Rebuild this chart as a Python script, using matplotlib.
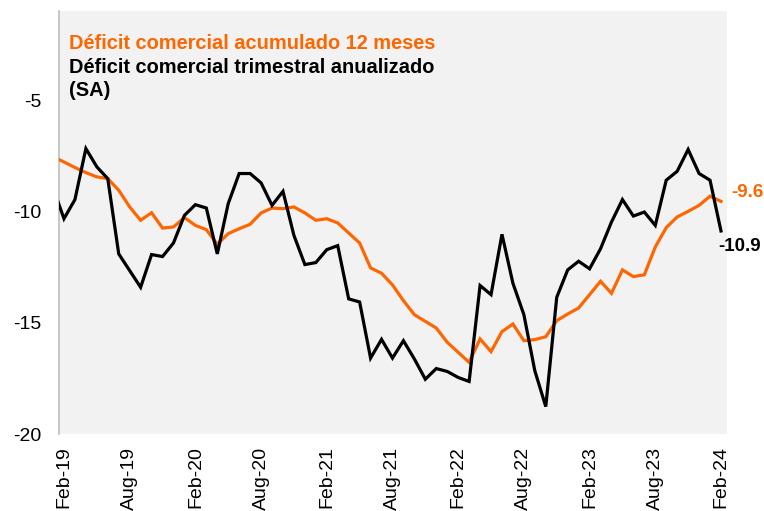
import matplotlib
matplotlib.use("Agg")
import matplotlib.pyplot as plt
import numpy as np

plt.rcParams['font.family'] = ['Liberation Sans', 'DejaVu Sans']

# Monthly data, Jan-19 .. Feb-24 (Jan-19 lies just outside the visible axis)
months = ['Jan-19', 'Feb-19', 'Mar-19', 'Apr-19', 'May-19', 'Jun-19', 'Jul-19', 'Aug-19', 'Sep-19', 'Oct-19', 'Nov-19', 'Dec-19',
          'Jan-20', 'Feb-20', 'Mar-20', 'Apr-20', 'May-20', 'Jun-20', 'Jul-20', 'Aug-20', 'Sep-20', 'Oct-20', 'Nov-20', 'Dec-20',
          'Jan-21', 'Feb-21', 'Mar-21', 'Apr-21', 'May-21', 'Jun-21', 'Jul-21', 'Aug-21', 'Sep-21', 'Oct-21', 'Nov-21', 'Dec-21',
          'Jan-22', 'Feb-22', 'Mar-22', 'Apr-22', 'May-22', 'Jun-22', 'Jul-22', 'Aug-22', 'Sep-22', 'Oct-22', 'Nov-22', 'Dec-22',
          'Jan-23', 'Feb-23', 'Mar-23', 'Apr-23', 'May-23', 'Jun-23', 'Jul-23', 'Aug-23', 'Sep-23', 'Oct-23', 'Nov-23', 'Dec-23',
          'Jan-24', 'Feb-24']

acumulado_12m = [-7.55, -7.78, -8.03, -8.26, -8.45, -8.53, -9.05, -9.80, -10.40, -10.06, -10.75, -10.70,
                 -10.28, -10.63, -10.82, -11.48, -11.00, -10.78, -10.58, -10.07, -9.85, -9.88, -9.80, -10.07,
                 -10.40, -10.33, -10.52, -10.97, -11.42, -12.54, -12.78, -13.30, -14.01, -14.64, -14.94, -15.24,
                 -15.88, -16.33, -16.78, -15.73, -16.30, -15.40, -15.06, -15.81, -15.76, -15.63, -14.91, -14.61,
                 -14.34, -13.74, -13.14, -13.68, -12.63, -12.93, -12.85, -11.60, -10.73, -10.25, -10.00, -9.73,
                 -9.32, -9.55]

trimestral_sa = [-8.93, -10.33, -9.47, -7.18, -8.00, -8.53, -11.91, -12.66, -13.41, -11.94, -12.03, -11.42,
                 -10.18, -9.70, -9.85, -11.91, -9.65, -8.30, -8.30, -8.72, -9.73, -9.10, -11.08, -12.39,
                 -12.30, -11.72, -11.54, -13.93, -14.07, -16.59, -15.75, -16.59, -15.81, -16.63, -17.54, -17.06,
                 -17.19, -17.46, -17.64, -13.33, -13.74, -11.03, -13.23, -14.64, -17.16, -18.77, -13.86, -12.63,
                 -12.24, -12.58, -11.68, -10.48, -9.47, -10.21, -10.03, -10.63, -8.60, -8.20, -7.22, -8.30,
                 -8.60, -10.88]

tick_labels = ['Feb-19', 'Aug-19', 'Feb-20', 'Aug-20', 'Feb-21', 'Aug-21', 'Feb-22', 'Aug-22',
               'Feb-23', 'Aug-23', 'Feb-24']
y_ticks = [-5, -10, -15, -20]

label_orange = 'Déficit comercial acumulado 12 meses'
label_black_1 = 'Déficit comercial trimestral anualizado'
label_black_2 = '(SA)'
end_orange = '-9.6'
end_black = '-10.9'

ORANGE = '#FF6600'
BLACK = '#000000'

fig = plt.figure(figsize=(7.64, 5.11), dpi=100)
ax = fig.add_axes([58.5 / 764, 1 - 434 / 511, (727 - 58.5) / 764, (434 - 11) / 511])
ax.set_facecolor('#F2F2F2')

x = np.arange(len(months)) - 1  # Feb-19 at 0

ax.plot(x, acumulado_12m, color=ORANGE, lw=2.3, solid_joinstyle='miter', zorder=3)
ax.plot(x, trimestral_sa, color=BLACK, lw=2.3, solid_joinstyle='miter', zorder=4)

ax.set_xlim(-0.5, 60.55)
ax.set_ylim(-20, -1)

tick_pos = [months.index(t) - 1 for t in tick_labels]
ax.set_xticks(tick_pos)
ax.set_xticklabels(tick_labels, rotation=90, fontsize=14, color='#000000')
ax.set_yticks(y_ticks)
ax.set_yticklabels([str(v) for v in y_ticks], fontsize=14, color='#000000')
ax.tick_params(axis='both', length=0)
ax.tick_params(axis='x', pad=9)
ax.tick_params(axis='y', pad=12)

for s in ['top', 'right', 'bottom']:
    ax.spines[s].set_visible(False)
ax.spines['left'].set_color('#BFBFBF')
ax.spines['left'].set_linewidth(1.2)

fs_leg = 14.4
fig.text(69 / 764, 1 - 43 / 511, label_orange, color=ORANGE,
         fontsize=fs_leg, fontweight='bold', va='center', ha='left')
fig.text(69 / 764, 1 - 67 / 511, label_black_1, color=BLACK,
         fontsize=fs_leg, fontweight='bold', va='center', ha='left')
fig.text(69 / 764, 1 - 90 / 511, label_black_2, color=BLACK,
         fontsize=fs_leg, fontweight='bold', va='center', ha='left')

ax.annotate(end_orange, xy=(x[-1], acumulado_12m[-1]), xytext=(731, 511 - 192),
            textcoords='figure pixels', color=ORANGE, fontsize=13.5, fontweight='bold',
            va='center', ha='left', annotation_clip=False)
ax.annotate(end_black, xy=(x[-1], trimestral_sa[-1]), xytext=(718, 511 - 246),
            textcoords='figure pixels', color=BLACK, fontsize=13.5, fontweight='bold',
            va='center', ha='left', annotation_clip=False)

fig.savefig('out.png', dpi=100)
